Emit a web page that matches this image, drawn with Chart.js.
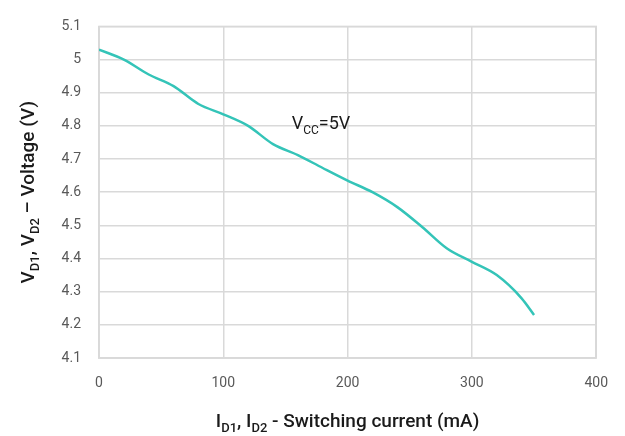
<!DOCTYPE html>
<html>
<head>
  <meta charset="UTF-8">
  <title>Output voltage vs switching current</title>
  <script src="https://cdn.jsdelivr.net/npm/chart.js"></script>
  <style>
    body { margin: 0; background: #fff; }
    #wrap { width: 625px; height: 436px; }
  </style>
</head>
<body>
  <div id="wrap"><canvas id="vdChart"></canvas></div>
  <script>
    // switching current (mA) and measured output voltage (V)
    var currentMA = [0, 20, 40, 60, 80, 100, 120, 140, 160, 180, 200, 220, 240, 260, 280, 300, 320, 340, 350];
    var voltageV = [5.03, 5.00, 4.955, 4.92, 4.866, 4.835, 4.80, 4.745, 4.712, 4.673, 4.635, 4.60, 4.555, 4.495, 4.43, 4.39, 4.35, 4.28, 4.23];
    var xTicks = [0, 100, 200, 300, 400];
    var yTicks = [4.1, 4.2, 4.3, 4.4, 4.5, 4.6, 4.7, 4.8, 4.9, 5, 5.1];
    var noteAt = { x: 155, y: 4.79 };

    var FONT = 'Roboto, "DejaVu Sans", sans-serif';

    // draw a run of text parts, some of them as subscripts
    function drawParts(ctx, parts, size, weight, align) {
      var subSize = Math.round(size * 0.68);
      var total = 0;
      parts.forEach(function (p) {
        ctx.font = weight + ' ' + (p.sub ? subSize : size) + 'px ' + FONT;
        p.w = ctx.measureText(p.t).width;
        total += p.w;
      });
      var x = align === 'center' ? -total / 2 : 0;
      parts.forEach(function (p) {
        ctx.font = weight + ' ' + (p.sub ? subSize : size) + 'px ' + FONT;
        ctx.fillText(p.t, x, p.sub ? size * 0.26 : 0);
        x += p.w;
      });
    }

    var labelsPlugin = {
      id: 'labelsPlugin',
      afterDraw: function (chart) {
        var ctx = chart.ctx;
        var xs = chart.scales.x, ys = chart.scales.y;
        ctx.save();
        ctx.fillStyle = '#1a1a1a';
        ctx.textBaseline = 'alphabetic';
        ctx.textAlign = 'left';

        // x axis title
        ctx.save();
        ctx.translate((xs.left + xs.right) / 2, 427);
        drawParts(ctx, [
          { t: 'I' }, { t: 'D1', sub: true }, { t: ', I' }, { t: 'D2', sub: true },
          { t: ' - Switching current (mA)' }
        ], 19, '500', 'center');
        ctx.restore();

        // y axis title
        ctx.save();
        ctx.translate(34, (ys.top + ys.bottom) / 2);
        ctx.rotate(-Math.PI / 2);
        drawParts(ctx, [
          { t: 'V' }, { t: 'D1', sub: true }, { t: ', V' }, { t: 'D2', sub: true },
          { t: ' \u2013 Voltage (V)' }
        ], 19, '500', 'center');
        ctx.restore();

        // supply note inside the plot
        ctx.save();
        ctx.translate(xs.getPixelForValue(noteAt.x), ys.getPixelForValue(noteAt.y));
        drawParts(ctx, [{ t: 'V' }, { t: 'CC', sub: true }, { t: '=5V' }], 18, '400', 'left');
        ctx.restore();

        ctx.restore();
      }
    };

    // close the plot box on the top and right
    var framePlugin = {
      id: 'frame',
      beforeDatasetsDraw: function (chart) {
        var a = chart.chartArea, c = chart.ctx;
        c.save();
        c.strokeStyle = '#d9d9d9';
        c.lineWidth = 1.5;
        c.strokeRect(a.left, a.top, a.right - a.left, a.bottom - a.top);
        c.restore();
      }
    };

    var ctx = document.getElementById('vdChart').getContext('2d');
    var vdChart = new Chart(ctx, {
      type: 'line',
      data: {
        datasets: [{
          data: currentMA.map(function (c, i) { return { x: c, y: voltageV[i] }; }),
          borderColor: '#34c4b8',
          borderWidth: 2.5,
          pointRadius: 0,
          tension: 0.4,
          cubicInterpolationMode: 'monotone',
          fill: false
        }]
      },
      options: {
        responsive: true,
        maintainAspectRatio: false,
        animation: false,
        layout: { padding: { top: 15, right: 28, left: 0, bottom: 0 } },
        plugins: { legend: { display: false }, tooltip: { enabled: false } },
        scales: {
          x: {
            type: 'linear',
            min: 0,
            max: 400,
            afterBuildTicks: function (axis) { axis.ticks = xTicks.map(function (v) { return { value: v }; }); },
            afterFit: function (axis) { axis.height = 78; },
            grid: { color: '#d9d9d9', lineWidth: 1.5, drawTicks: false },
            border: { color: '#d9d9d9', width: 1.5 },
            ticks: { color: '#595959', font: { family: FONT, size: 14 }, padding: 17, maxRotation: 0 }
          },
          y: {
            type: 'linear',
            min: 4.1,
            max: 5.1,
            afterBuildTicks: function (axis) { axis.ticks = yTicks.map(function (v) { return { value: v }; }); },
            afterFit: function (axis) { axis.width = 99; },
            grid: { color: '#d9d9d9', lineWidth: 1.5, drawTicks: false },
            border: { color: '#d9d9d9', width: 1.5 },
            ticks: {
              color: '#595959',
              font: { family: FONT, size: 14 },
              padding: 18,
              callback: function (v) { return String(Math.round(v * 10) / 10); }
            }
          }
        }
      },
      plugins: [framePlugin, labelsPlugin]
    });
  </script>
</body>
</html>
